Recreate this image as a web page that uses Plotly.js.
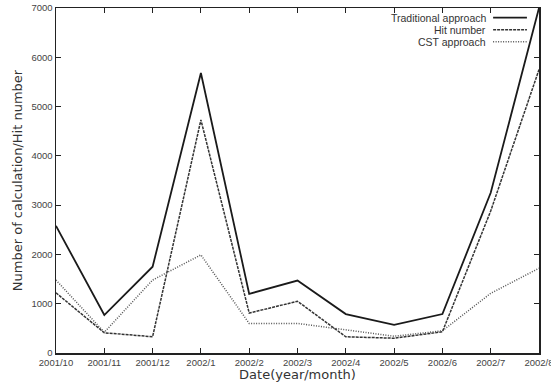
<!DOCTYPE html>
<html><head><meta charset="utf-8">
<script src="https://cdn.plot.ly/plotly-3.0.1.min.js"></script>
<style>html,body{margin:0;padding:0;background:#fff}#c{width:551px;height:382px}</style>
</head><body><div id="c"></div>
<script>
const months = ["2001/10","2001/11","2001/12","2002/1","2002/2","2002/3","2002/4","2002/5","2002/6","2002/7","2002/8"];
const traditional = [2580, 770, 1750, 5680, 1200, 1470, 790, 570, 790, 3250, 7000];
const hitNumber = [1220, 410, 330, 4730, 810, 1050, 330, 300, 430, 2880, 5750];
const cst = [1480, 420, 1480, 1990, 600, 600, 470, 340, 450, 1210, 1720];
const seriesNames = ["Traditional approach", "Hit number", "CST approach"];

const styles = [
  {color:"#1a1a1a", width:1.8, dash:"solid"},
  {color:"#333333", width:1.5, dash:"3px,1px"},
  {color:"#555555", width:1.5, dash:"1px,1.5px"}
];
const values = [traditional, hitNumber, cst];
const traces = values.map((v,i)=>({
  x: months, y: v, type:"scatter", mode:"lines", name: seriesNames[i],
  line: styles[i], showlegend:false
}));

const annotations = [];
const shapes = [];
const legY = [0.972, 0.937, 0.902];
seriesNames.forEach((n,i)=>{
  annotations.push({xref:"paper", yref:"paper", x:0.895, y:legY[i], xanchor:"right", yanchor:"middle",
    text:n, showarrow:false, font:{family:"Liberation Sans, Arial, sans-serif", size:10.5, color:"#333"}});
  shapes.push({type:"line", xref:"paper", yref:"paper", x0:0.905, x1:0.975, y0:legY[i], y1:legY[i], line:styles[i]});
});

const axFont = {family:"Liberation Sans, Arial, sans-serif", size:9.5, color:"#444"};
const layout = {
  width:551, height:382,
  margin:{l:56, r:12, t:8, b:29},
  paper_bgcolor:"#fff", plot_bgcolor:"#fff",
  font: axFont,
  xaxis:{type:"category", range:[0,10], showgrid:false, zeroline:false,
    showline:true, linecolor:"#222", linewidth:1.5, mirror:"ticks",
    ticks:"inside", ticklen:5, tickcolor:"#222", tickwidth:1,
    tickfont:axFont,
    title:{text:"Date(year/month)", font:{family:"DejaVu Sans, sans-serif", size:13, color:"#333"}, standoff:6}},
  yaxis:{range:[0,7000], dtick:1000, showgrid:false, zeroline:false,
    showline:true, linecolor:"#222", linewidth:1.5, mirror:"ticks",
    ticks:"inside", ticklen:5, tickcolor:"#222", tickwidth:1,
    tickfont:axFont,
    title:{text:"Number of calculation/Hit number", font:{family:"DejaVu Sans, sans-serif", size:13, color:"#333"}, standoff:6}},
  annotations, shapes
};
Plotly.newPlot("c", traces, layout, {staticPlot:true, displayModeBar:false});
</script></body></html>
